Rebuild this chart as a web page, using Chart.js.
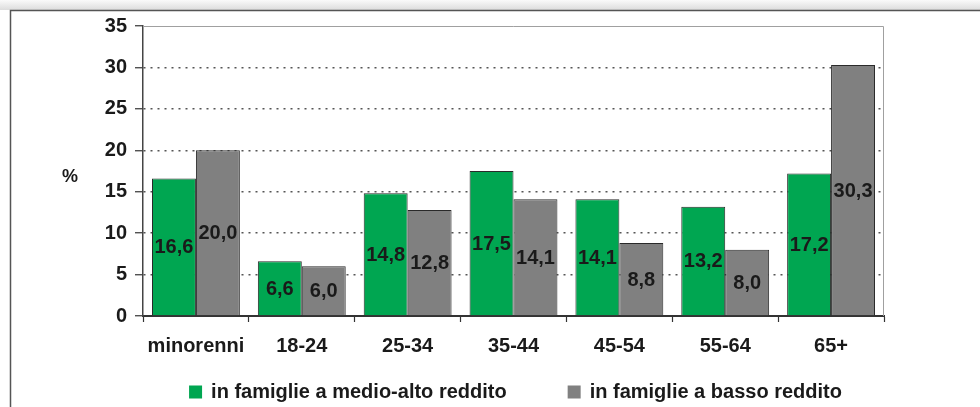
<!DOCTYPE html>
<html><head><meta charset="utf-8">
<script src="https://cdn.jsdelivr.net/npm/chart.js@4.4.1/dist/chart.umd.min.js"></script>
<style>html,body{margin:0;padding:0;background:#fff}canvas{display:block}</style>
</head><body>
<canvas id="c" width="980" height="407"></canvas>
<script>
const categories = ['minorenni', '18-24', '25-34', '35-44', '45-54', '55-64', '65+'];
const seriesNames = ['in famiglie a medio-alto reddito', 'in famiglie a basso reddito'];
const medioAlto = [16.6, 6.6, 14.8, 17.5, 14.1, 13.2, 17.2];
const basso = [20.0, 6.0, 12.8, 14.1, 8.8, 8.0, 30.3];
const yMin = 0, yMax = 35, yStep = 5;
const yLabel = '%';

const FONT = '"Liberation Sans", Arial, sans-serif';
const TEXT = '#1a1a1a';
const GREEN = '#00a651';
const GRAY = '#808080';

const framePlugin = {
  id: 'frame',
  beforeDraw(chart) {
    const ctx = chart.ctx;
    ctx.save();
    ctx.fillStyle = '#fff';
    ctx.fillRect(0, 0, chart.width, chart.height);
    const g = ctx.createLinearGradient(0, 0, 0, 10);
    g.addColorStop(0, '#fafafa');
    g.addColorStop(1, '#dcdcdc');
    ctx.fillStyle = g;
    ctx.fillRect(0, 0, chart.width, 10);
    ctx.strokeStyle = '#555';
    ctx.lineWidth = 1.5;
    ctx.beginPath();
    ctx.moveTo(10.5, chart.height);
    ctx.lineTo(10.5, 10.5);
    ctx.lineTo(chart.width, 10.5);
    ctx.stroke();
    ctx.restore();
  },
  beforeDatasetsDraw(chart) {
    const {ctx, chartArea: a} = chart;
    ctx.save();
    ctx.strokeStyle = '#a0a0a0';
    ctx.lineWidth = 1;
    ctx.beginPath();
    ctx.moveTo(a.left, a.top + 0.5);
    ctx.lineTo(a.right - 0.5, a.top + 0.5);
    ctx.lineTo(a.right - 0.5, a.bottom);
    ctx.stroke();
    ctx.restore();
  },
  afterDraw(chart) {
    const {ctx, chartArea: a} = chart;
    ctx.save();
    // y unit label
    ctx.font = 'bold 18px ' + FONT;
    ctx.fillStyle = TEXT;
    ctx.textAlign = 'center';
    ctx.textBaseline = 'middle';
    ctx.fillText(yLabel, a.left - 73, 177);
    // legend
    ctx.font = 'bold 20px ' + FONT;
    const box = 13, gapBox = 9, gapItem = 61;
    const items = chart.data.datasets.map(d => ({
      text: d.label, color: d.backgroundColor, w: box + gapBox + ctx.measureText(d.label).width
    }));
    const total = items.reduce((s, it) => s + it.w, 0) + gapItem * (items.length - 1);
    let x = (a.left + a.right) / 2 - total / 2 + 2;
    const yc = chart.height - 15;
    ctx.textAlign = 'left';
    items.forEach(it => {
      ctx.fillStyle = it.color;
      ctx.fillRect(x, yc - 6.5, box, box);
      ctx.fillStyle = TEXT;
      ctx.fillText(it.text, x + box + gapBox, yc);
      x += it.w + gapItem;
    });
    ctx.restore();
  }
};

const labelPlugin = {
  id: 'barLabels',
  afterDatasetsDraw(chart) {
    const ctx = chart.ctx;
    ctx.save();
    ctx.font = 'bold 20px ' + FONT;
    ctx.fillStyle = TEXT;
    ctx.textAlign = 'center';
    ctx.textBaseline = 'middle';
    chart.data.datasets.forEach((ds, i) => {
      chart.getDatasetMeta(i).data.forEach((el, j) => {
        const v = ds.data[j];
        const txt = v.toFixed(1).replace('.', ',');
        ctx.fillText(txt, el.x, (el.y + el.base) / 2 + 1);
      });
    });
    ctx.restore();
  }
};

new Chart(document.getElementById('c'), {
  type: 'bar',
  data: {
    labels: categories,
    datasets: [
      { label: seriesNames[0], data: medioAlto, backgroundColor: GREEN, borderColor: '#2a2a2a', borderWidth: 1 },
      { label: seriesNames[1], data: basso, backgroundColor: GRAY, borderColor: '#2a2a2a', borderWidth: 1 }
    ]
  },
  options: {
    responsive: false,
    animation: false,
    categoryPercentage: 0.83,
    barPercentage: 1.0,
    layout: { padding: { left: 0, right: 96, top: 26, bottom: 37 } },
    plugins: { legend: { display: false }, tooltip: { enabled: false } },
    scales: {
      x: {
        offset: true,
        grid: { offset: true, drawOnChartArea: false, drawTicks: true, tickLength: 6, tickColor: '#333', tickWidth: 1.2 },
        border: { color: '#333', width: 2 },
        ticks: { color: TEXT, font: { family: FONT, size: 20, weight: 'bold' }, padding: 12, maxRotation: 0 }
      },
      y: {
        min: yMin, max: yMax,
        afterFit(s) { s.width = 143; },
        grid: {
          color: c => (c.tick && (c.tick.value === yMin || c.tick.value === yMax)) ? 'rgba(0,0,0,0)' : '#555',
          lineWidth: 1.5,
          tickLength: 8, tickColor: '#333', tickWidth: 1.2, tickBorderDash: []
        },
        border: { color: '#444', width: 1.5, dash: [2, 5] },
        ticks: { stepSize: yStep, color: TEXT, font: { family: FONT, size: 20, weight: 'bold' }, padding: 8 }
      }
    }
  },
  plugins: [framePlugin, labelPlugin]
});
</script>
</body></html>
